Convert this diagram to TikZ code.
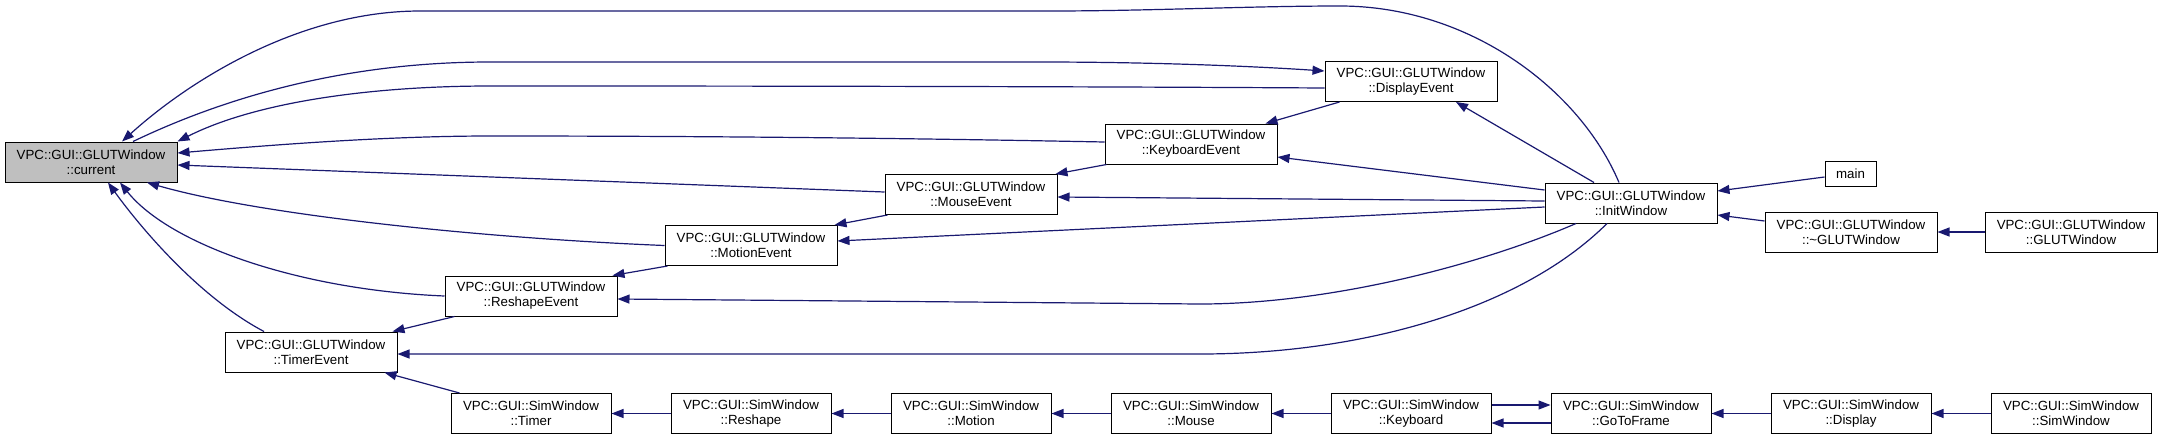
\documentclass[tikz,border=0pt]{standalone}
\usepackage{fontspec}
\setmainfont{Liberation Sans}
\usetikzlibrary{arrows.meta,calc}
\definecolor{edgeblue}{HTML}{191970}
\definecolor{curgray}{HTML}{BFBFBF}
\begin{document}
\begin{tikzpicture}[x=1pt,y=-1pt,
  box/.style={draw=black, line width=1pt, inner sep=0pt, align=center,
    minimum height=40pt, minimum width=172pt, fill=white,
    font=\fontsize{13.3}{15}\selectfont},
  sbox/.style={box, minimum width=160pt},
  edge/.style={draw=edgeblue, line width=1.2pt, -{Triangle[length=12pt,width=9pt]}}]
\useasboundingbox (0,0) rectangle (2163,440);
% nodes
\node[box, fill=curgray] (current) at (91,162) {VPC::GUI::GLUTWindow\\::current};
\node[box] (DisplayEvent) at (1411,81.5) {VPC::GUI::GLUTWindow\\::DisplayEvent};
\node[box] (KeyboardEvent) at (1191,144) {VPC::GUI::GLUTWindow\\::KeyboardEvent};
\node[box] (MouseEvent) at (971,194.5) {VPC::GUI::GLUTWindow\\::MouseEvent};
\node[box] (MotionEvent) at (751,245.5) {VPC::GUI::GLUTWindow\\::MotionEvent};
\node[box] (ReshapeEvent) at (531,296) {VPC::GUI::GLUTWindow\\::ReshapeEvent};
\node[box] (TimerEvent) at (311,352) {VPC::GUI::GLUTWindow\\::TimerEvent};
\node[box] (InitWindow) at (1631,203) {VPC::GUI::GLUTWindow\\::InitWindow};
\node[box, minimum width=51pt, minimum height=25pt] (main) at (1850.5,173.5) {main};
\node[box] (dtor) at (1851,232) {VPC::GUI::GLUTWindow\\::\textasciitilde GLUTWindow};
\node[box] (ctor) at (2071,232) {VPC::GUI::GLUTWindow\\::GLUTWindow};
\node[sbox] (Timer) at (531,413.5) {VPC::GUI::SimWindow\\::Timer};
\node[sbox] (Reshape) at (751,413.5) {VPC::GUI::SimWindow\\::Reshape};
\node[sbox] (Motion) at (971,413.5) {VPC::GUI::SimWindow\\::Motion};
\node[sbox] (Mouse) at (1191,413.5) {VPC::GUI::SimWindow\\::Mouse};
\node[sbox] (Keyboard) at (1411,413.5) {VPC::GUI::SimWindow\\::Keyboard};
\node[sbox] (GoToFrame) at (1631,413.5) {VPC::GUI::SimWindow\\::GoToFrame};
\node[sbox] (Display) at (1851,413.5) {VPC::GUI::SimWindow\\::Display};
\node[sbox] (SimWin) at (2071,413.5) {VPC::GUI::SimWindow\\::SimWindow};
% edges into current
\draw[edge] ($(InitWindow.north)+(-12,0)$) .. controls (1580,90) and (1470,6) .. (1340,6)
  .. controls (1250,6) and (1150,11) .. (1050,11) -- (420,11)
  .. controls (300,11) and (190,80) .. ($(current.north)+(31,0)$);
\draw[edge] ($(current.north)+(42,0)$) .. controls (230,95) and (350,62) .. (490,62) -- (1040,62)
  .. controls (1150,62) and (1250,66) .. ($(DisplayEvent.west)+(0,-10.5)$);
\draw[edge] ($(DisplayEvent.west)+(0,6.5)$) .. controls (1000,86) and (600,86) .. (490,86)
  .. controls (380,86) and (260,100) .. (current.north east);
\draw[edge] ($(KeyboardEvent.west)+(0,-2)$) .. controls (900,138) and (700,136) .. (490,136)
  .. controls (380,136) and (260,146) .. ($(current.east)+(0,-9)$);
\draw[edge] ($(MouseEvent.west)+(0,-2.5)$) -- ($(current.east)+(0,3)$);
\draw[edge] (MotionEvent.west) .. controls (480,238) and (260,215) .. ($(current.south)+(56,0)$);
\draw[edge] (ReshapeEvent.west) .. controls (300,290) and (170,245) .. ($(current.south)+(29,0)$);
\draw[edge] ($(TimerEvent.north)+(-47,0)$) .. controls (195,295) and (135,220) .. ($(current.south)+(17,0)$);
% other edges
\draw[edge] ($(ReshapeEvent.south west)+(10,0)$) -- ($(TimerEvent.north east)+(-5,0)$);
\draw[edge] ($(InitWindow.south)+(-24,0)$) .. controls (1520,310) and (1360,354) .. (1200,354) -- ($(TimerEvent.east)+(0,2)$);
\draw[edge] ($(Timer.north west)+(9,0)$) -- ($(TimerEvent.south east)+(-13,0)$);
\draw[edge] (Reshape.west) -- (Timer.east);
\draw[edge] ($(MotionEvent.south west)+(3,0)$) -- ($(ReshapeEvent.north east)+(-5,0)$);
\draw[edge] ($(InitWindow.south)+(-55,0)$) .. controls (1480,265) and (1330,304) .. (1200,304) -- ($(ReshapeEvent.east)+(0,3)$);
\draw[edge] ($(MouseEvent.south west)+(3,0)$) -- ($(MotionEvent.north east)+(-3,0)$);
\draw[edge] ($(InitWindow.west)+(0,4)$) -- ($(MotionEvent.east)+(0,-4.5)$);
\draw[edge] ($(KeyboardEvent.south west)+(2,0)$) -- ($(MouseEvent.north east)+(-2,0)$);
\draw[edge] ($(InitWindow.west)+(0,-2)$) -- ($(MouseEvent.east)+(0,2.5)$);
\draw[edge] ($(DisplayEvent.south west)+(15,0)$) -- ($(KeyboardEvent.north east)+(-12,0)$);
\draw[edge] ($(InitWindow.west)+(0,-13)$) -- ($(KeyboardEvent.east)+(0,13)$);
\draw[edge] ($(InitWindow.north)+(-37,0)$) -- ($(DisplayEvent.south)+(45,0)$);
\draw[edge] ($(main.west)+(0,3.5)$) -- ($(InitWindow.east)+(0,-12)$);
\draw[edge] ($(dtor.west)+(0,-11)$) -- ($(InitWindow.east)+(0,12)$);
\draw[edge] (ctor.west) -- (dtor.east);
% bottom chain
\draw[edge] (Motion.west) -- (Reshape.east);
\draw[edge] (Mouse.west) -- (Motion.east);
\draw[edge] (Keyboard.west) -- (Mouse.east);
\draw[edge] ($(Keyboard.east)+(0,-8.5)$) -- ($(GoToFrame.west)+(0,-8.5)$);
\draw[edge] ($(GoToFrame.west)+(0,9.5)$) -- ($(Keyboard.east)+(0,9.5)$);
\draw[edge] (Display.west) -- (GoToFrame.east);
\draw[edge] (SimWin.west) -- (Display.east);
\end{tikzpicture}
\end{document}
